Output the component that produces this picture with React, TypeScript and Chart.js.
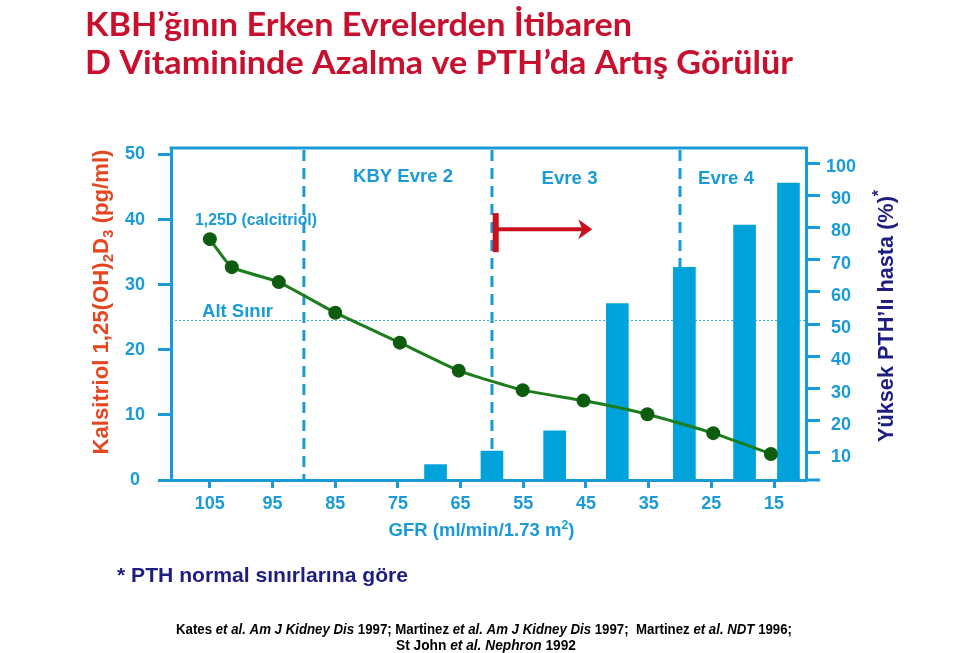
import React, { useEffect, useRef } from 'react';
import { Chart, registerables } from 'chart.js';

Chart.register(...registerables);

// ---- data ----
const gfrTicks = [105, 95, 85, 75, 65, 55, 45, 35, 25, 15];
const calcitriolTicks = [0, 10, 20, 30, 40, 50];
const pthTicks = [10, 20, 30, 40, 50, 60, 70, 80, 90, 100];

const calcitriolGfr = [105, 101.5, 94, 85, 74.7, 65.3, 55.1, 45.4, 35.2, 24.7, 15.5];
const calcitriolValues = [37.0, 32.7, 30.4, 25.7, 21.1, 16.8, 13.8, 12.2, 10.1, 7.2, 4.0];

const pthGfr = [69, 60, 50, 40, 29.3, 19.7, 12.7];
const pthValues = [6.4, 10.6, 16.9, 56.4, 67.6, 80.7, 93.8];

const stageBoundaries = [90, 60, 30];
const stageLabels = ['KBY Evre 2', 'Evre 3', 'Evre 4'];
const lowerLimit = 24.6;
const arrowFromGfr = 59.4;
const arrowToGfr = 44;
const arrowLevel = 38.5;
const bracketTop = 41;
const bracketBottom = 35;

// ---- styles ----
const BLUE = '#1a9bd7';
const BAR = '#00a2db';
const GREEN_LINE = '#1b7d1b';
const GREEN_DOT = '#0e5c0e';
const RED = '#c8101e';
const TITLE_RED = '#c8102e';
const NAVY = '#1e1e82';
const ORANGE = '#e5461f';
const FAMILY = '"Liberation Sans", Arial, sans-serif';

type Run = { t: string; font: string; dy?: number };

function drawRuns(
  ctx: CanvasRenderingContext2D,
  runs: Run[],
  x: number,
  y: number,
  align: 'left' | 'center',
  fitWidth?: number,
  rotate?: number
) {
  ctx.save();
  ctx.textBaseline = 'alphabetic';
  ctx.textAlign = 'left';
  let total = 0;
  const widths = runs.map((r) => {
    ctx.font = r.font;
    const w = ctx.measureText(r.t).width;
    total += w;
    return w;
  });
  const sx = fitWidth ? fitWidth / total : 1;
  ctx.translate(x, y);
  if (rotate) ctx.rotate(rotate);
  ctx.scale(sx, 1);
  let cx = align === 'center' ? -total / 2 : 0;
  runs.forEach((r, i) => {
    ctx.font = r.font;
    ctx.fillText(r.t, cx, r.dy || 0);
    cx += widths[i];
  });
  ctx.restore();
}

const f = (size: number, style = '') => `${style} bold ${size}px ${FAMILY}`.trim();

const overlayPlugin = {
  id: 'overlay',
  beforeDatasetsDraw(chart: any) {
    const { ctx, chartArea: a, scales } = chart;
    const xs = scales.x;
    const ys = scales.y;
    ctx.save();
    // top frame line
    ctx.strokeStyle = BLUE;
    ctx.lineWidth = 3;
    ctx.beginPath();
    ctx.moveTo(a.left - 1.5, a.top);
    ctx.lineTo(a.right + 1.5, a.top);
    ctx.stroke();
    // bottom line extension at right
    ctx.beginPath();
    ctx.moveTo(a.right, a.bottom);
    ctx.lineTo(a.right + 14, a.bottom);
    ctx.stroke();
    // stage boundaries
    ctx.setLineDash([11, 7]);
    stageBoundaries.forEach((g) => {
      const px = xs.getPixelForValue(g);
      ctx.beginPath();
      ctx.moveTo(px, a.top + 2);
      ctx.lineTo(px, a.bottom);
      ctx.stroke();
    });
    // lower limit
    ctx.setLineDash([2, 2]);
    ctx.lineWidth = 1;
    ctx.strokeStyle = '#3aa8dc';
    const ly = Math.round(ys.getPixelForValue(lowerLimit)) + 0.5;
    ctx.beginPath();
    ctx.moveTo(a.left, ly);
    ctx.lineTo(a.right, ly);
    ctx.stroke();
    ctx.restore();
  },
  afterDatasetsDraw(chart: any) {
    const { ctx, scales } = chart;
    const xs = scales.x;
    const ys = scales.y;
    ctx.save();
    const x0 = xs.getPixelForValue(arrowFromGfr);
    const x1 = xs.getPixelForValue(arrowToGfr);
    const yt = ys.getPixelForValue(bracketTop);
    const yb = ys.getPixelForValue(bracketBottom);
    const ym = ys.getPixelForValue(arrowLevel);
    ctx.fillStyle = RED;
    ctx.fillRect(x0 - 3, yt, 6, yb - yt);
    ctx.strokeStyle = RED;
    ctx.lineWidth = 4;
    ctx.beginPath();
    ctx.moveTo(x0, ym);
    ctx.lineTo(x1 - 8, ym);
    ctx.stroke();
    ctx.beginPath();
    ctx.moveTo(x1, ym);
    ctx.lineTo(x1 - 14, ym - 10);
    ctx.lineTo(x1 - 10, ym);
    ctx.lineTo(x1 - 14, ym + 10);
    ctx.closePath();
    ctx.fill();
    ctx.restore();
  },
  afterDraw(chart: any) {
    const { ctx } = chart;
    ctx.save();
    // title
    ctx.fillStyle = TITLE_RED;
    drawRuns(ctx, [{ t: 'KBH’ğının Erken Evrelerden İtibaren', font: 'bold 32px Lato, "Open Sans", sans-serif' }], 85, 36, 'left', 547);
    drawRuns(ctx, [{ t: 'D Vitamininde Azalma ve PTH’da Artış Görülür', font: 'bold 32px Lato, "Open Sans", sans-serif' }], 85, 74, 'left', 708);

    // in-plot labels
    ctx.fillStyle = BLUE;
    drawRuns(ctx, [{ t: stageLabels[0], font: f(18) }], 403, 182, 'center', 100);
    drawRuns(ctx, [{ t: stageLabels[1], font: f(18) }], 569.5, 183.5, 'center', 56);
    drawRuns(ctx, [{ t: stageLabels[2], font: f(18) }], 726, 183.5, 'center', 56);
    drawRuns(ctx, [{ t: '1,25D (calcitriol)', font: f(16) }], 256, 225, 'center', 122);
    drawRuns(ctx, [{ t: 'Alt Sınır', font: f(18) }], 237.5, 316.5, 'center', 71);

    // x axis title
    drawRuns(
      ctx,
      [
        { t: 'GFR (ml/min/1.73 m', font: f(18) },
        { t: '2', font: f(12), dy: -7 },
        { t: ')', font: f(18) },
      ],
      481.5,
      536,
      'center',
      186
    );

    // left axis title
    ctx.fillStyle = ORANGE;
    drawRuns(
      ctx,
      [
        { t: 'Kalsitriol 1,25(OH)', font: f(22) },
        { t: '2', font: f(15), dy: 5 },
        { t: 'D', font: f(22) },
        { t: '3', font: f(15), dy: 5 },
        { t: ' (pg/ml)', font: f(22) },
      ],
      108,
      302,
      'center',
      305,
      -Math.PI / 2
    );

    // right axis title
    ctx.fillStyle = NAVY;
    drawRuns(
      ctx,
      [
        { t: 'Yüksek PTH’lı hasta (%)', font: f(22) },
        { t: '*', font: f(16), dy: -9 },
      ],
      893,
      316,
      'center',
      252,
      -Math.PI / 2
    );

    // footnote
    drawRuns(ctx, [{ t: '* PTH normal sınırlarına göre', font: f(21) }], 117, 582, 'left', 291);

    // citations
    ctx.fillStyle = '#000000';
    drawRuns(
      ctx,
      [
        { t: 'Kates ', font: f(14) },
        { t: 'et al. Am J Kidney Dis', font: f(14, 'italic') },
        { t: ' 1997; Martinez ', font: f(14) },
        { t: 'et al. Am J Kidney Dis', font: f(14, 'italic') },
        { t: ' 1997;  Martinez ', font: f(14) },
        { t: 'et al. NDT', font: f(14, 'italic') },
        { t: ' 1996;', font: f(14) },
      ],
      484,
      634,
      'center',
      616
    );
    drawRuns(
      ctx,
      [
        { t: 'St John ', font: f(14) },
        { t: 'et al. Nephron', font: f(14, 'italic') },
        { t: ' 1992', font: f(14) },
      ],
      486,
      650,
      'center',
      180
    );
    ctx.restore();
  },
};

export default function App() {
  const ref = useRef<HTMLCanvasElement | null>(null);

  useEffect(() => {
    if (!ref.current) return;
    const tickFont = { family: FAMILY, size: 18, weight: 'bold' as const };
    const chart = new Chart(ref.current, {
      type: 'bar',
      data: {
        datasets: [
          {
            type: 'line',
            label: '1,25D (calcitriol)',
            data: calcitriolGfr.map((g, i) => ({ x: g, y: calcitriolValues[i] })),
            xAxisID: 'x',
            yAxisID: 'y',
            borderColor: GREEN_LINE,
            borderWidth: 3,
            pointRadius: 7,
            pointBackgroundColor: GREEN_DOT,
            pointBorderColor: GREEN_DOT,
            pointBorderWidth: 0,
            tension: 0.15,
            order: 0,
          } as any,
          {
            type: 'bar',
            label: 'Yüksek PTH’lı hasta (%)',
            data: pthGfr.map((g, i) => ({ x: g, y: pthValues[i] })),
            xAxisID: 'x',
            yAxisID: 'y1',
            backgroundColor: BAR,
            borderWidth: 0,
            barThickness: 22,
            order: 1,
          } as any,
        ],
      },
      options: {
        animation: false,
        responsive: false,
        devicePixelRatio: 1,
        layout: { padding: { top: 148, left: 0, right: 0, bottom: 0 } },
        plugins: { legend: { display: false }, tooltip: { enabled: false } },
        scales: {
          x: {
            type: 'linear',
            reverse: true,
            min: 9.9,
            max: 111.2,
            offset: false,
            afterBuildTicks: (s: any) => {
              s.ticks = gfrTicks.map((v) => ({ value: v }));
            },
            afterFit: (s: any) => {
              s.height = 173;
            },
            grid: {
              offset: false,
              drawOnChartArea: false,
              drawTicks: true,
              tickLength: 8,
              tickWidth: 3,
              tickColor: BLUE,
              color: BLUE,
            },
            border: { display: true, color: BLUE, width: 3 },
            ticks: {
              color: BLUE,
              font: tickFont,
              padding: 5,
              maxRotation: 0,
              autoSkip: false,
            },
          } as any,
          y: {
            type: 'linear',
            position: 'left',
            min: 0,
            max: 51,
            afterBuildTicks: (s: any) => {
              s.ticks = calcitriolTicks.map((v) => ({ value: v }));
            },
            afterFit: (s: any) => {
              s.width = 171;
            },
            grid: {
              drawOnChartArea: false,
              drawTicks: true,
              tickLength: 13,
              tickWidth: 3,
              tickColor: BLUE,
              color: BLUE,
            },
            border: { display: true, color: BLUE, width: 3 },
            ticks: { color: BLUE, font: tickFont, padding: 13, crossAlign: 'center' },
          } as any,
          y1: {
            type: 'linear',
            position: 'right',
            min: 1.62,
            max: 104.66,
            afterBuildTicks: (s: any) => {
              s.ticks = pthTicks.map((v) => ({ value: v }));
            },
            afterFit: (s: any) => {
              s.width = 154;
            },
            grid: {
              drawOnChartArea: false,
              drawTicks: true,
              tickLength: 14,
              tickWidth: 3,
              tickColor: BLUE,
              color: BLUE,
            },
            border: { display: true, color: BLUE, width: 3 },
            ticks: { color: BLUE, font: tickFont, padding: 6, crossAlign: 'center', labelOffset: 4 },
          } as any,
        },
      },
      plugins: [overlayPlugin],
    });
    return () => chart.destroy();
  }, []);

  return (
    <div style={{ position: 'absolute', left: 0, top: 0, width: 960, height: 653, background: '#ffffff' }}>
      <canvas ref={ref} width={960} height={653} style={{ display: 'block', width: 960, height: 653 }} />
    </div>
  );
}
